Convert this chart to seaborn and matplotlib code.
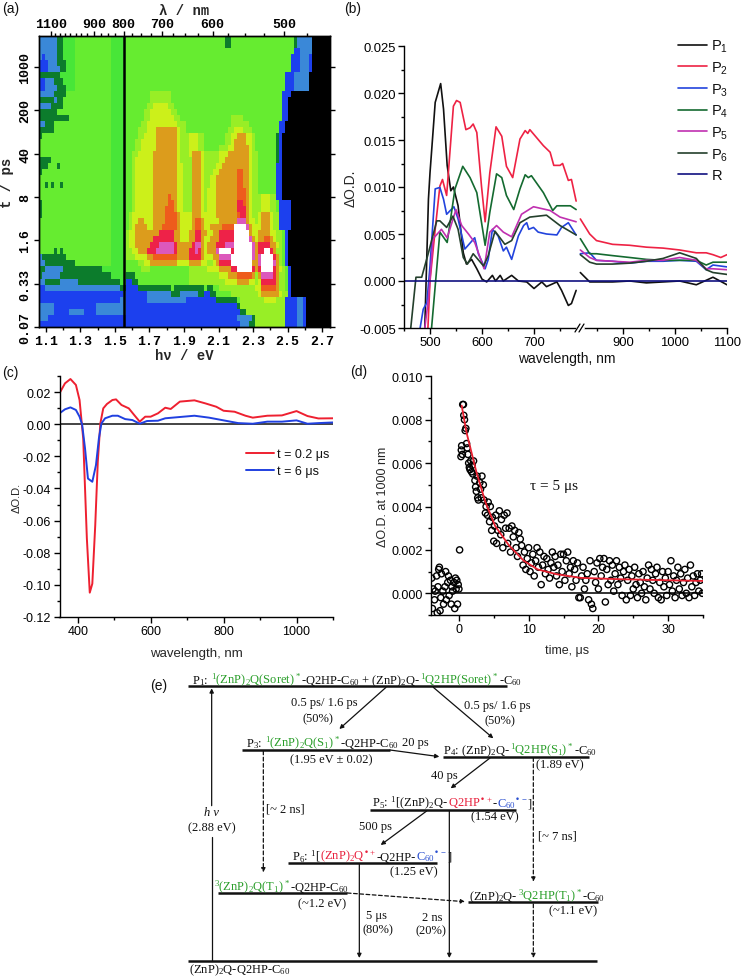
import numpy as np
import pandas as pd
import seaborn as sns
import matplotlib
matplotlib.use("Agg")
import matplotlib.pyplot as plt
from matplotlib.colors import ListedColormap
from matplotlib.ticker import FixedLocator, MultipleLocator, FormatStrFormatter

# panel (a): map levels, each row lists colour + right edge column, top row first
LEVEL_CHARS = "KBSDGHLYORCMW"
LEVEL_COLORS = ["#000000", "#1c40ee", "#3a88d8", "#0c7c2c", "#48e638", "#66ec30", "#98ee26",
                "#ccf01a", "#dc9c1c", "#ee5c1c", "#ee2248", "#dc58bc", "#ffffff"]
HEAT_ROWS = [
    "S6 D8 G12 H24 G29 H62 D64 H85 D86 S91 K97",
    "S6 D8 G12 H24 G29 H62 D64 H85 D86 S91 K97",
    "S6 D8 G12 H24 G29 H85 B87 S91 K97",
    "S1 B2 S6 D8 G12 H24 G29 H84 B87 S90 B91 K97",
    "B3 S6 D9 G12 H24 G29 H84 B87 S90 B91 K97",
    "B3 S7 D9 G12 H24 G29 H84 B87 S90 B91 K97",
    "D7 G12 H24 G29 H82 B85 S90 K97",
    "B2 S5 D8 G12 H24 G29 H82 B85 S90 K97",
    "B2 S6 D9 G12 H24 G29 H82 B85 S90 K97",
    "S5 D9 H24 G29 H37 L44 H81 B84 K97",
    "D5 S6 D8 H24 G29 H37 L44 H81 B83 K97",
    "S4 D8 H24 G29 H36 L38 Y43 L45 H81 B83 K97",
    "D6 H24 G29 H35 L37 Y44 L46 H81 B83 K97",
    "D10 H24 G29 H35 L37 Y45 L47 H64 L68 H81 B83 K97",
    "S2 D5 H24 G29 H34 L36 Y46 L49 H64 L70 H80 B82 K97",
    "D5 H24 G29 H33 L36 Y39 O46 Y47 L49 H63 L65 Y68 L71 H80 B82 K97",
    "D1 H24 G29 H33 L35 Y39 O46 Y47 L50 Y53 L55 H62 L64 Y66 O69 Y71 L72 H79 D80 B81 K97",
    "H24 G29 H32 L34 Y39 O46 Y47 L50 Y53 L55 H62 L64 Y65 O69 Y71 L72 H79 D80 B81 K97",
    "H24 G29 H32 L34 Y39 O46 Y47 L50 Y53 L55 H60 L63 Y65 O70 Y71 L72 H79 D80 B81 K97",
    "H24 G29 H31 L33 Y38 O46 Y47 L50 Y51 O54 Y55 L60 Y63 O70 Y71 L73 H79 D80 B81 K97",
    "D4 H24 G29 H31 L32 Y38 O46 Y47 L51 O54 Y55 L60 Y62 O70 Y71 L73 H79 D80 B81 K97",
    "D3 H6 D7 H24 G29 H31 L32 Y38 O46 Y48 L51 O54 Y55 L59 Y61 O70 Y71 L73 H79 B81 K97",
    "D1 H24 G29 H31 L32 Y38 O46 Y48 L51 O54 Y55 L58 Y60 O66 R68 O70 Y71 L73 H79 B81 K97",
    "H24 G29 H31 L32 Y38 O46 Y48 L51 O54 Y55 L57 Y59 O66 R68 O70 Y71 L73 H79 B81 K97",
    "H2 D3 H4 D5 H7 D8 H24 G29 H31 L32 Y38 O46 Y48 L51 O54 Y55 L57 Y59 O66 R68 O70 Y71 L73 H79 B81 K97",
    "H24 G29 H31 L32 Y38 O46 Y48 L51 O54 Y55 L56 Y59 O66 R69 O70 Y71 L73 H79 B81 K97",
    "H24 G29 H31 L32 Y38 O43 R44 O46 Y48 L51 O54 Y55 L56 Y59 O66 R69 O70 Y71 L74 Y77 L79 B81 K97",
    "D1 H24 G29 H31 L32 Y38 O43 R45 O46 Y48 L51 O54 Y55 L56 Y59 O66 C68 R69 O70 Y71 L74 Y77 L79 H80 B84 K97",
    "D1 H24 G29 H31 L32 Y38 O42 R45 O46 Y48 L51 O54 Y55 L56 Y59 O66 C69 O70 Y71 L74 Y77 L79 H80 B84 K97",
    "D1 H24 G29 H30 L31 Y38 O42 R46 O47 Y51 O54 Y59 O66 R67 C69 O70 Y71 L73 Y74 O77 Y78 L80 B84 K97",
    "H24 G29 H30 L31 Y33 O35 Y38 O42 R46 O47 Y51 O52 R54 O55 Y60 O66 M69 O70 Y72 L73 Y74 O77 Y78 L80 B84 K97",
    "H24 G29 H30 L31 Y32 O36 Y38 O41 R46 O47 Y51 O52 R54 O55 Y57 O61 R65 W69 M70 O71 Y74 O77 Y78 L80 B84 K97",
    "H24 G29 L30 Y32 O40 C45 O47 Y50 O52 C54 O56 Y58 O60 C65 W70 O71 Y73 O77 Y79 L81 H82 B83 K97",
    "H24 G29 L30 Y32 O38 C45 O47 Y50 O52 C54 O55 Y57 O60 C65 W70 M71 O72 Y73 O75 R77 O78 Y79 L81 H82 B83 K97",
    "H24 G29 L30 Y32 O37 C40 M45 C46 O51 C52 M54 O55 Y56 O59 C62 M65 W71 M72 O73 C77 O79 Y80 L81 H82 B83 K97",
    "H5 D6 H7 D8 H24 G29 L31 Y33 O36 C39 M45 C46 O50 C52 M53 C54 O55 Y56 O59 M60 W64 C65 W71 M72 O73 C75 W77 C78 O79 L81 H82 B83 K97",
    "S1 D9 H24 G29 L32 Y36 O38 R46 O50 C54 O55 Y58 O60 M64 W71 M72 O73 M74 W78 C79 O80 L81 H82 B83 K97",
    "S2 D12 H24 G29 H33 L35 Y37 O46 Y50 O54 Y56 L58 Y59 O60 C64 W71 O73 M74 W78 M79 O80 L81 H82 B83 K97",
    "D2 S8 D21 G29 H34 L37 H50 L56 Y60 O64 C66 W71 C72 O73 C74 W78 C79 O80 Y81 L82 H83 B84 K97",
    "D1 S7 D24 G29 D32 H50 L60 Y63 O66 R71 O72 L73 O74 M78 C79 O80 L82 H83 B84 K97",
    "S2 D7 S13 D27 G29 B31 D33 H50 L62 Y66 O70 Y72 L73 Y74 C79 O80 L82 H83 B84 K97",
    "B2 S27 D29 B33 D44 H45 D55 H56 D58 H60 L72 Y74 R79 O80 L82 H83 B84 K97",
    "B28 S29 B36 S44 D47 S53 D55 B57 D59 H64 L73 Y74 O80 Y81 L83 B84 K97",
    "B27 S29 B36 S49 B59 D66 H67 L75 Y79 L82 B86 S88 B89 K97",
    "S5 B19 S29 B66 D67 L82 B86 S88 B89 K97",
    "S5 B10 S15 B19 S29 B67 D69 L82 B86 S88 B89 K97",
    "S3 B29 B66 S71 D72 L82 B86 S88 B89 K97",
    "B29 B67 S70 D72 L82 B86 S88 B89 K97",
]
EV_TICKS = [1.1, 1.3, 1.5, 1.7, 1.9, 2.1, 2.3, 2.5, 2.7]
NM_TICKS = [1100, 900, 800, 700, 600, 500]
T_LABELS = ["0.07", "0.33", "1.6", "8", "40", "200", "1000"]

# panel (b)
P1_NM = [490, 497, 500, 510, 520.5, 526, 533, 540, 545, 554, 564, 570, 580, 590, 600, 609, 620, 626, 635, 641, 657, 670, 686, 700, 715, 724, 744, 753, 766, 772, 781]
P1_OD = [-.0049, .0087, .0115, .019, .021, .0183, .0123, .0096, .01, .008, .003, .0018, .0023, .0013, .0002, -.0001, .0006, 0, .0006, 0, .0006, 0, -.0001, -.0008, -.0001, -.0006, -.0001, -.001, -.0026, -.0024, -.001]
P1_NM2 = [818, 836, 849, 880, 913, 945, 977, 1009, 1041, 1073, 1100]
P1_OD2 = [.0009, -.0001, -.0001, -.0001, 0, -.0002, -.0001, 0, -.0004, .0004, -.0004]
P2_NM = [496, 500, 510, 519, 524, 532, 545, 551, 558, 569, 577, 583, 590, 599, 606, 615, 627, 638, 647, 659, 673, 683, 688, 692, 718, 731, 738, 750, 755, 766, 772, 781]
P2_OD = [-.005, 0, .0055, .0101, .0108, .0091, .0186, .0192, .019, .0161, .0163, .0167, .0158, .0101, .0063, .0115, .0164, .0154, .0122, .011, .0151, .016, .0157, .0161, .0144, .0137, .0123, .0123, .0125, .0107, .0108, .0085]
P2_NM2 = [818, 836, 849, 880, 913, 945, 977, 1009, 1041, 1060, 1073, 1088, 1100]
P2_OD2 = [.0066, .005, .0043, .0039, .0038, .0036, .0035, .0033, .003, .003, .0028, .0025, .0028]
P3_NM = [481, 487, 494, 500, 510, 519, 526, 532, 546, 554, 567, 586, 593, 606, 612, 620, 631, 641, 647, 657, 670, 680, 686, 690, 699, 708, 724, 744, 753, 766, 781]
P3_OD = [-.005, -.003, -.0023, .0016, .0098, .00995, .0087, .0071, .0079, .0066, .0034, .0046, .0029, .0013, .0023, .0055, .0048, .0032, .0036, .0023, .0048, .0059, .0062, .0055, .0057, .0052, .005, .0049, .0057, .0062, .0049]
P3_NM2 = [818, 836, 849, 880, 913, 945, 977, 1009, 1041, 1060, 1073, 1100]
P3_OD2 = [.0029, .003, .0022, .0021, .0019, .0021, .0021, .0022, .0021, .0012, .0017, .0015]
P4_NM = [503, 519, 533, 548, 563, 577, 590, 606, 615, 628, 638, 647, 661, 673, 683, 689, 695, 718, 736, 744, 770, 781]
P4_OD = [-.005, .0052, .0041, .0098, .0122, .011, .0094, .0038, .0073, .0114, .011, .0091, .0076, .0098, .0113, .011, .0112, .0094, .0075, .008, .008, .0076]
P4_NM2 = [818, 836, 849, 880, 913, 945, 977, 1009, 1041, 1060, 1073, 1100]
P4_OD2 = [.0045, .0029, .0029, .0027, .0025, .0023, .0022, .0022, .0022, .0017, .002, .002]
P5_NM = [490, 497, 506, 522, 533, 550, 561, 574, 586, 604, 615, 628, 641, 657, 676, 699, 731, 750, 781]
P5_OD = [-.005, -.0019, .0045, .0055, .0046, .0076, .0059, .005, .0041, .0013, .0052, .0059, .0052, .0047, .0071, .0079, .0075, .0068, .0063]
P5_NM2 = [818, 836, 849, 880, 913, 945, 977, 1009, 1041, 1060, 1073, 1100]
P5_OD2 = [.0033, .0025, .0022, .0021, .002, .0022, .0022, .0025, .0022, .0013, .0013, .0012]
P6_NM = [463, 473, 484, 497, 513, 519, 532, 544, 554, 564, 572, 583, 603, 612, 625, 644, 657, 673, 692, 724, 750, 781]
P6_OD = [-.005, .0004, .0004, .003, .0064, .0064, .0057, .0069, .0055, .0025, .0018, .0029, .0016, .0027, .0053, .0039, .0043, .0062, .0068, .007, .0059, .0049]
P6_NM2 = [818, 836, 849, 880, 913, 945, 977, 1009, 1041, 1060, 1073, 1100]
P6_OD2 = [.0028, .002, .0018, .0018, .0019, .0021, .0024, .003, .0024, .0012, .0009, .0007]
R_NM = [450, 1100]
R_OD = [0, 0]

# panel (c)
C_RED_NM = [350, 365, 380, 395, 405, 415, 425, 433, 440, 448, 455, 462, 470, 480, 495, 505, 520, 540, 555, 570, 585, 600, 620, 640, 655, 680, 720, 750, 780, 800, 830, 860, 880, 920, 960, 1000, 1030, 1060, 1100]
C_RED_OD = [.0194, .0256, .0283, .0246, .0152, -.0088, -.071, -.105, -.0994, -.063, -.0233, .0006, .01, .0127, .0152, .0156, .0121, .01, .0058, .0017, .0048, .0048, .0069, .0104, .0096, .0142, .015, .0131, .011, .0085, .0079, .0054, .0042, .0054, .0056, .0083, .0052, .0037, .0038]
C_BLUE_NM = [350, 365, 380, 395, 405, 412, 420, 428, 440, 450, 458, 465, 475, 495, 510, 530, 550, 570, 590, 620, 640, 680, 720, 760, 800, 840, 880, 920, 960, 1000, 1030, 1060, 1100]
C_BLUE_OD = [.0069, .0094, .0106, .009, .0048, 0, -.015, -.0338, -.0358, -.0254, -.0088, .0006, .0038, .0054, .0054, .0033, .0027, .0004, .0021, .0023, .0038, .0046, .0054, .0042, .0025, .0008, .0004, .0017, .0017, .0025, .0004, .0008, .0012]

# panel (d)
TIME_US = [-3.9, -3.8, -3.7, -3.5, -3.4, -3.2, -3.1, -3.0, -2.9, -2.8, -2.7, -2.6, -2.5, -2.3, -2.2, -2.0, -1.9, -1.8, -1.6, -1.5, -1.4, -1.2, -1.1, -1.0, -0.9, -0.7, -0.6, -0.5, -0.4, -0.3, -0.2, -0.1, 0.0, 0.1,
           0.3, 0.35, 0.4, 0.5, 0.55, 0.65, 0.7, 0.8, 0.9, 1.0, 1.1, 1.2, 1.3, 1.4, 1.5, 1.6, 1.7, 1.8, 1.9, 2.0, 2.1, 2.3, 2.4, 2.5, 2.6, 2.7, 2.8, 3.0, 3.1, 3.2, 3.3, 3.5, 3.6, 3.8, 3.9, 4.1, 4.2, 4.4, 4.5, 4.7, 4.8, 5.0, 5.1, 5.3, 5.4, 5.6, 5.8, 6.0, 6.1, 6.3, 6.5, 6.7, 6.9, 7.0, 7.2, 7.4, 7.6, 7.8, 8.0, 8.2, 8.4, 8.6, 8.8, 9.0, 9.2, 9.4, 9.6, 9.8,
           10.0, 10.2, 10.4, 10.6, 10.8, 11.0, 11.2, 11.4, 11.6, 11.8, 12.0, 12.2, 12.4, 12.6, 12.8, 13.0, 13.2, 13.4, 13.6, 13.8, 14.0, 14.2, 14.4, 14.6, 14.8, 15.0, 15.2, 15.4, 15.6, 15.8, 16.0, 16.2, 16.4, 16.6, 16.8, 17.0, 17.2, 17.4, 17.6, 17.8, 18.0, 18.2, 18.4, 18.6, 18.8, 19.0, 19.2, 19.4, 19.6, 19.8,
           20.0, 20.2, 20.4, 20.6, 20.8, 21.0, 21.2, 21.4, 21.6, 21.8, 22.0, 22.2, 22.4, 22.6, 22.8, 23.0, 23.2, 23.4, 23.6, 23.8, 24.0, 24.2, 24.4, 24.6, 24.8, 25.0, 25.2, 25.4, 25.6, 25.8, 26.0, 26.2, 26.4, 26.6, 26.8, 27.0, 27.2, 27.4, 27.6, 27.8, 28.0, 28.2, 28.4, 28.6, 28.8, 29.0, 29.2, 29.4, 29.6, 29.8,
           30.0, 30.2, 30.4, 30.6, 30.8, 31.0, 31.2, 31.4, 31.6, 31.8, 32.0, 32.2, 32.4, 32.6, 32.8, 33.0, 33.2, 33.4, 33.6, 33.8, 34.0, 34.2, 34.4, 34.6, 34.8, 34.9]
OD_1000 = [.0007, -.0007, .0002, -.0003, .0001, .0008, -.0009, .0003, .0011, .0012, -.0008, -.0002, .0009, .0001, -.0005, .0003, .001, -.0003, .0005, .0008, -.0001, .0006, -.0005, .0003, .0001, .0005, -.0007, .0007, .0002, .0006, -.0005, .0004, .0002, .002,
           .0063, .0066, .0068, .0064, .0087, .0087, .0082, .008, .0075, .0076, .0069, .0067, .0064, .006, .0058, .0057, .0061, .0056, .0059, .0055, .0061, .0052, .0049, .0047, .0054, .0044, .0043, .0051, .0048, .0044, .0054, .005, .0043, .0037, .004, .0036, .0042, .0033, .004, .0029, .0035, .0024, .0031, .0036, .0023, .0029, .0038, .0027, .0034, .0021, .0036, .003, .0037, .0023, .003, .0019, .0031, .0026, .0029, .0021, .0017, .0028, .0025, .0022, .0013, .0019, .0011, .0016,
           .0021, .001, .0014, .0018, .0008, .0015, .0021, .0012, .0019, .0004, .0013, .0017, .0009, .0016, .0011, .0007, .0014, .0019, .0012, .0017, .0008, .0013, .0004, .0018, .001, .0018, .0006, .0015, .0019, .0009, .0012, .0003, .0015, .0011, .0006, .0014, -.0002, -.0002, .0008, .0012, .0002, .0006, .0009, -.0003, .0015, -.0005, -.0007, .001, .0005, .0014,
           .0002, .0016, .0008, .0012, .0016, -.0004, .0011, .0004, .0015, .0006, .0013, .0001, .0009, .0015, .0004, .0012, .0007, -.0001, .001, .0013, -.0003, .0006, .0011, -.0001, .0008, .0002, .0012, .0004, -.0002, .0009, .0005, 0, .001, .0003, -.0003, .0007, .0013, .0002, .0011, .0006, 0, .0009, .0012, -.0002, .0005, -.0003, .001, .0003, .0007, -.0001,
           .001, .0004, .0015, .0001, .0008, -.0002, .0006, .0012, .0002, .0009, -.0001, .0005, .0011, 0, .0007, -.0002, .0013, .0003, .0008, -.0001, .0005, .0009, .0001, .0006, .0009, 0]
FIT_US = [0.4, 1.1, 2.5, 3.8, 5.2, 7.2, 9.3, 11.3, 14, 17.5, 23, 30, 35]
FIT_OD = [.00865, .0074, .0056, .0042, .0031, .0022, .0015, .0011, .00088, .00071, .00065, .0006, .00057]

GREEN = "#2a9e2a"
RED = "#e8203c"
BLUE = "#2a4fd0"
W, H = 744, 979

sns.set_theme(style="ticks")
plt.rcParams["font.family"] = ["Liberation Sans", "DejaVu Sans"]
plt.rcParams["mathtext.default"] = "regular"
plt.rcParams["axes.linewidth"] = 1.0
plt.rcParams["axes.edgecolor"] = "black"
plt.rcParams["text.color"] = "#111111"
plt.rcParams["xtick.color"] = "black"
plt.rcParams["ytick.color"] = "black"


def px_axes(fig, left, top, right, bottom):
    return fig.add_axes([left / W, 1 - bottom / H, (right - left) / W, (bottom - top) / H])


def parse_rows(rows):
    grid = np.zeros((len(rows), 97), dtype=int)
    for i, row in enumerate(rows):
        start = 0
        for tok in row.split():
            end = int(tok[1:])
            grid[i, start:end] = LEVEL_CHARS.index(tok[0])
            start = max(start, end)
    return grid


def tick_style(ax, size=9.4):
    ax.tick_params(which="major", length=4, width=1, labelsize=size, pad=2)
    ax.tick_params(which="minor", length=2.2, width=1)


fig = plt.figure(figsize=(W / 100, H / 100), dpi=100)
fig.patch.set_facecolor("white")

# ---- (a) heat map
ax_a = px_axes(fig, 39, 37, 330, 328)
grid = parse_rows(HEAT_ROWS)
sns.heatmap(grid, ax=ax_a, cmap=ListedColormap(LEVEL_COLORS), vmin=-0.5, vmax=12.5, cbar=False,
            xticklabels=False, yticklabels=False)
E_MIN, E_MAX = 1.06, 2.746


def ev_to_col(ev):
    return (np.asarray(ev, dtype=float) - E_MIN) / (E_MAX - E_MIN) * 97


for s in ax_a.spines.values():
    s.set_visible(True)
    s.set_linewidth(1)
mono = dict(family="Liberation Mono", fontweight="bold")
ax_a.axvline(ev_to_col(1.55), color="black", lw=1.8)
ax_a.set_xticks(ev_to_col(EV_TICKS))
ax_a.set_xticklabels([f"{v:.1f}" for v in EV_TICKS], fontsize=9.5, **mono)
ax_a.xaxis.set_minor_locator(FixedLocator(ev_to_col([1.2, 1.4, 1.6, 1.8, 2.0, 2.2, 2.4, 2.6])))
row_of = [(983 - 110) / 18.19 - 130 * k / 18.19 for k in range(len(T_LABELS))]
ax_a.set_yticks(row_of)
ax_a.set_yticklabels(T_LABELS, rotation=90, va="center", fontsize=9.5, **mono)
ax_a.tick_params(axis="both", which="major", length=3.5, width=1, pad=2, right=True, bottom=True, left=True)
ax_a.tick_params(axis="x", which="minor", length=2, width=1)
ax_a.set_xlabel("hν / eV", fontsize=10, labelpad=1, **mono)
ax_a.set_ylabel("t / ps", fontsize=10, labelpad=4, **mono)
top_a = ax_a.twiny()
top_a.set_xlim(ax_a.get_xlim())
top_a.set_xticks(ev_to_col(1239.8 / np.array(NM_TICKS)))
top_a.set_xticklabels([str(n) for n in NM_TICKS], fontsize=9.5, **mono)
top_a.xaxis.set_minor_locator(FixedLocator(ev_to_col(1239.8 / np.arange(425, 1125, 25))))
top_a.tick_params(axis="x", which="major", length=3.5, width=1, pad=1)
top_a.tick_params(axis="x", which="minor", length=2, width=1)
top_a.set_xlabel("λ / nm", fontsize=10, labelpad=3, **mono)

# ---- (b) broken-axis spectra
ax_b1 = px_axes(fig, 404, 47, 578, 329)
ax_b2 = px_axes(fig, 578, 47, 727, 329)
series_b = [("P$_1$", "#111111", P1_NM, P1_OD, P1_NM2, P1_OD2),
            ("P$_2$", "#ee2244", P2_NM, P2_OD, P2_NM2, P2_OD2),
            ("P$_3$", "#2244dd", P3_NM, P3_OD, P3_NM2, P3_OD2),
            ("P$_4$", "#146a30", P4_NM, P4_OD, P4_NM2, P4_OD2),
            ("P$_5$", "#c030b0", P5_NM, P5_OD, P5_NM2, P5_OD2),
            ("P$_6$", "#24402c", P6_NM, P6_OD, P6_NM2, P6_OD2)]
handles = []
for name, color, nm1, od1, nm2, od2 in series_b:
    sns.lineplot(x=nm1, y=od1, ax=ax_b1, color=color, lw=1.2, sort=False, estimator=None)
    sns.lineplot(x=nm2, y=od2, ax=ax_b2, color=color, lw=1.2, sort=False, estimator=None)
    handles.append(ax_b1.get_lines()[-1])
sns.lineplot(x=R_NM, y=R_OD, ax=ax_b1, color="#101080", lw=1.2, sort=False, estimator=None)
handles.append(ax_b1.get_lines()[-1])
sns.lineplot(x=R_NM, y=R_OD, ax=ax_b2, color="#101080", lw=1.2, sort=False, estimator=None)
ax_b1.set_xlim(450, 784.6)
ax_b2.set_xlim(813.5, 1100)
for ax in (ax_b1, ax_b2):
    ax.set_ylim(-0.005, 0.025)
    ax.spines["top"].set_visible(False)
    ax.spines["right"].set_visible(False)
    ax.xaxis.set_major_locator(MultipleLocator(100))
    ax.xaxis.set_minor_locator(MultipleLocator(50))
    tick_style(ax)
    ax.set_xlabel("")
ax_b1.yaxis.set_major_locator(MultipleLocator(0.005))
ax_b1.yaxis.set_minor_locator(MultipleLocator(0.0025))
ax_b1.yaxis.set_major_formatter(FormatStrFormatter("%.3f"))
ax_b1.set_ylabel("ΔO.D.", fontsize=10, labelpad=1)
ax_b2.spines["left"].set_visible(False)
ax_b2.tick_params(axis="y", which="both", left=False, labelleft=False)
ax_b2.set_xticks([900, 1000, 1100])
ax_b1.set_xticks([500, 600, 700])
fig.legend(handles, [s[0] for s in series_b] + ["R"], loc="upper left", bbox_to_anchor=(675 / W, 1 - 36 / H),
           frameon=False, fontsize=10.5, handlelength=2.0, handletextpad=0.3, labelspacing=0.36, borderpad=0.2,
           borderaxespad=0)

# ---- (c) spectra
ax_c = px_axes(fig, 59.5, 377.3, 333, 617.7)
sns.lineplot(x=C_RED_NM, y=C_RED_OD, ax=ax_c, color="#ee2030", lw=1.4, sort=False, estimator=None, label="t = 0.2 μs")
sns.lineplot(x=C_BLUE_NM, y=C_BLUE_OD, ax=ax_c, color="#2040e0", lw=1.4, sort=False, estimator=None, label="t = 6 μs")
ax_c.axhline(0, color="#111111", lw=1.1, zorder=1)
ax_c.set_xlim(350, 1100)
ax_c.set_ylim(-0.12, 0.03)
ax_c.xaxis.set_major_locator(MultipleLocator(200))
ax_c.xaxis.set_minor_locator(MultipleLocator(100))
ax_c.yaxis.set_major_locator(MultipleLocator(0.02))
ax_c.yaxis.set_minor_locator(MultipleLocator(0.01))
ax_c.yaxis.set_major_formatter(FormatStrFormatter("%.2f"))
ax_c.spines["top"].set_visible(False)
ax_c.spines["right"].set_visible(False)
tick_style(ax_c, 9)
ax_c.set_xlabel("wavelength, nm", fontsize=9.5, labelpad=7)
ax_c.set_ylabel("ΔO.D.", fontsize=8, labelpad=1)
ax_c.legend(loc="upper left", bbox_to_anchor=((246 - 59.5) / 273.5, 1 - (449 - 377.3) / 240.4), frameon=False, fontsize=9,
            handlelength=2.2, handletextpad=0.3, labelspacing=0.4, borderpad=0, borderaxespad=0)

# ---- (d) decay trace
ax_d = px_axes(fig, 431, 377.3, 703, 616)
ax_d.axhline(0, color="#222222", lw=1.3, zorder=1)
sns.scatterplot(x=TIME_US, y=OD_1000, ax=ax_d, facecolor="none", edgecolor="black", linewidth=1.0, s=20, zorder=2)
sns.lineplot(x=FIT_US, y=FIT_OD, ax=ax_d, color="#e82030", lw=1.3, sort=False, estimator=None, zorder=3)
ax_d.set_xlim(-4, 35)
ax_d.set_ylim(-0.001, 0.01)
ax_d.xaxis.set_major_locator(MultipleLocator(10))
ax_d.xaxis.set_minor_locator(MultipleLocator(5))
ax_d.yaxis.set_major_locator(MultipleLocator(0.002))
ax_d.yaxis.set_minor_locator(MultipleLocator(0.001))
ax_d.yaxis.set_major_formatter(FormatStrFormatter("%.3f"))
ax_d.spines["top"].set_visible(False)
ax_d.spines["right"].set_visible(False)
tick_style(ax_d, 9)
ax_d.set_xlabel("time, μs", fontsize=9, labelpad=6)
ax_d.set_ylabel("ΔO.D. at 1000 nm", fontsize=9, labelpad=2)

# ---- overlay in image pixels: panel letters, axis break and scheme (e)
ov = fig.add_axes([0, 0, 1, 1])
ov.set_xlim(0, W)
ov.set_ylim(H, 0)
ov.axis("off")
ov.patch.set_alpha(0)
for letter, lx, ly in [("(a)", 2, 9), ("(b)", 344, 9), ("(c)", 2, 373), ("(d)", 350, 372), ("(e)", 150, 686)]:
    ov.text(lx, ly, letter, fontsize=10, va="center", ha="left")
ov.text(567, 359, "wavelength, nm", fontsize=10, ha="center", va="center")
ov.text(554, 487, "τ = 5 μs", fontsize=11, ha="center", va="center", family="Liberation Serif")
ov.plot([577, 583], [329, 329], color="white", lw=2)
ov.plot([575, 580], [333, 325], color="black", lw=0.9)
ov.plot([579, 584], [333, 325], color="black", lw=0.9)


def ze(zx, zy):
    return 150 + zx / 3, 660 + zy / 3


renderer = fig.canvas.get_renderer()
SERIF = 9.0


def rich(zx, zy, parts):
    x, y = ze(zx, zy)
    for txt, col in parts:
        gap = 3 if txt.endswith(" ") else 0
        t = ov.text(x, y, txt.rstrip(), color=col, fontsize=SERIF, family="Liberation Serif", va="baseline", ha="left")
        x += t.get_window_extent(renderer).width + gap


def label(zx, zy, txt, **kw):
    x, y = ze(zx, zy)
    ov.text(x, y, txt, fontsize=SERIF, family="Liberation Serif", ha="center", va="center", **kw)


def arrow(z0, z1, dashed=False):
    ov.annotate("", xy=ze(*z1), xytext=ze(*z0),
                arrowprops=dict(arrowstyle="-|>", lw=0.9, color="#111111", ls=(0, (3, 2)) if dashed else "-",
                                mutation_scale=6, shrinkA=0, shrinkB=0))


def bar(z0, z1, zy, lw=1.8):
    (x0, y), (x1, _) = ze(z0, zy), ze(z1, zy)
    ov.plot([x0, x1], [y, y], color="#111111", lw=lw, solid_capstyle="butt")


for z0, z1, zy in [(113, 1070, 82), (275, 720, 273), (880, 1318, 293), (660, 1098, 452), (415, 862, 613),
                   (205, 592, 702), (955, 1343, 730), (115, 1340, 905)]:
    bar(z0, z1, zy)

k = "#111111"
rich(125, 72, [("P$_1$: ", k), ("$^1$(ZnP)$_2$Q(Soret)$^*$", GREEN), ("-Q2HP-C$_{60}$ + (ZnP)$_2$Q-", k),
               ("$^1$Q2HP(Soret)$^*$", GREEN), ("-C$_{60}$", k)])
rich(287, 262, [("P$_3$: ", k), ("$^1$(ZnP)$_2$Q(S$_1$)$^*$", GREEN), ("-Q2HP-C$_{60}$", k)])
rich(880, 283, [("P$_4$: (ZnP)$_2$Q-", k), ("$^1$Q2HP(S$_1$)$^*$", GREEN), ("-C$_{60}$", k)])
rich(665, 442, [("P$_5$: $^1$[(ZnP)$_2$Q-", k), ("Q2HP$^{•+}$", RED), ("-", k), ("C$_{60}$$^{•-}$", BLUE), ("]", k)])
rich(425, 602, [("P$_6$: $^1$[", k), ("(ZnP)$_2$Q$^{•+}$", RED), ("-Q2HP-", k), ("C$_{60}$$^{•-}$", BLUE), ("]", k)])
rich(192, 692, [("$^3$(ZnP)$_2$Q(T$_1$)$^*$", GREEN), ("-Q2HP-C$_{60}$", k)])
rich(957, 720, [("(ZnP)$_2$Q-", k), ("$^3$Q2HP(T$_1$)$^*$", GREEN), ("-C$_{60}$", k)])
rich(117, 940, [("(ZnP)$_2$Q-Q2HP-C$_{60}$", k)])

for zx, zy, txt in [(522, 130, "0.5 ps/ 1.6 ps"), (505, 177, "(50%)"), (1042, 138, "0.5 ps/ 1.6 ps"), (1050, 183, "(50%)"),
                    (795, 248, "20 ps"), (543, 300, "(1.95 eV ± 0.02)"), (1230, 317, "(1.89 eV)"), (884, 347, "40 ps"),
                    (407, 448, "[~ 2 ns]"), (185, 505, "(2.88 eV)"), (1035, 473, "(1.54 eV)"), (677, 502, "500 ps"),
                    (1222, 531, "[~ 7 ns]"), (792, 636, "(1.25 eV)"), (517, 733, "(~1.2 eV)"), (1270, 755, "(~1.1 eV)"),
                    (678, 768, "5 μs"), (683, 812, "(80%)"), (848, 773, "2 ns"), (843, 813, "(20%)")]:
    label(zx, zy, txt)
label(185, 460, "h ν", style="italic")

x0, y0 = ze(185, 905)
x1, y1 = ze(185, 535)
ov.plot([x0, x1], [y0, y1], color="#111111", lw=0.9)
arrow((185, 440), (185, 88))
arrow((708, 85), (568, 210))
arrow((850, 85), (1030, 238))
arrow((720, 273), (868, 293))
arrow((1020, 297), (902, 388))
arrow((830, 456), (692, 558))
arrow((340, 276), (340, 640), dashed=True)
arrow((1150, 296), (1150, 668), dashed=True)
arrow((592, 702), (945, 728), dashed=True)
arrow((628, 615), (628, 897))
arrow((898, 455), (898, 897))
arrow((1150, 735), (1150, 897), dashed=True)

fig.savefig("out.png", dpi=100)
